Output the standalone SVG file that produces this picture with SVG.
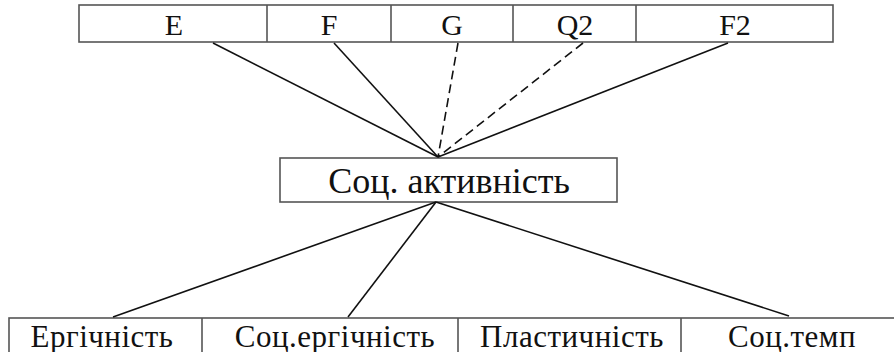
<svg xmlns="http://www.w3.org/2000/svg" width="894" height="352" viewBox="0 0 894 352">
<style>
.box{fill:#fff;stroke:#555;stroke-width:1.6}
.div{stroke:#555;stroke-width:1.6}
.t{fill:#111;text-anchor:middle;font-family:"Liberation Serif","Times New Roman",serif}
.top{font-size:30px}
.mid{font-size:36px}
.bot{font-size:31px;letter-spacing:0.5px}
.ln{stroke:#111;stroke-width:1.6;fill:none}
.dash{stroke-dasharray:9 5}
</style>
<rect width="894" height="352" fill="#fff"/>
<g id="top-row">
<rect class="box" x="79" y="5" width="754" height="37"/>
<line class="div" x1="267" y1="5" x2="267" y2="42"/>
<line class="div" x1="391" y1="5" x2="391" y2="42"/>
<line class="div" x1="513" y1="5" x2="513" y2="42"/>
<line class="div" x1="636" y1="5" x2="636" y2="42"/>
</g>
<g id="node-E"><text class="t top" x="174" y="35">E</text></g>
<g id="node-F"><text class="t top" x="329" y="35">F</text></g>
<g id="node-G"><text class="t top" x="452" y="35">G</text></g>
<g id="node-Q2"><text class="t top" x="575" y="35">Q2</text></g>
<g id="node-F2"><text class="t top" x="735" y="35">F2</text></g>
<g id="node-center">
<rect class="box" x="280" y="158" width="337" height="44"/>
<text class="t mid" x="449" y="193">Соц. активність</text>
</g>
<g id="bottom-row">
<rect class="box" x="9" y="318" width="900" height="50"/>
<line class="div" x1="202" y1="318" x2="202" y2="352"/>
<line class="div" x1="458" y1="318" x2="458" y2="352"/>
<line class="div" x1="681" y1="318" x2="681" y2="352"/>
</g>
<g id="node-ergichnist"><text class="t bot" x="102" y="347">Ергічність</text></g>
<g id="node-socergichnist"><text class="t bot" x="335" y="347">Соц.ергічність</text></g>
<g id="node-plastychnist"><text class="t bot" x="572" y="347">Пластичність</text></g>
<g id="node-soctemp"><text class="t bot" x="792" y="347">Соц.темп</text></g>
<g id="connectors">
<line class="ln" x1="213" y1="43" x2="438" y2="157"/>
<line class="ln" x1="334" y1="43" x2="438" y2="157"/>
<line class="ln dash" x1="458" y1="43" x2="438" y2="157"/>
<line class="ln dash" x1="583" y1="43" x2="438" y2="157"/>
<line class="ln" x1="728" y1="43" x2="438" y2="157"/>
<line class="ln" x1="436" y1="202" x2="113" y2="317"/>
<line class="ln" x1="436" y1="202" x2="348" y2="317"/>
<line class="ln" x1="436" y1="202" x2="789" y2="316"/>
</g>
</svg>
